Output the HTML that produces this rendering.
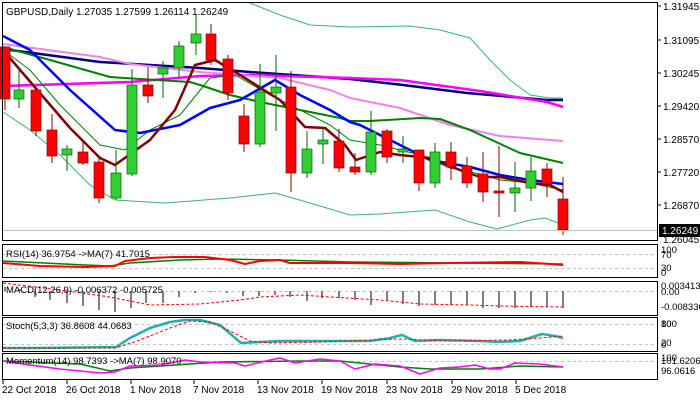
<!DOCTYPE html>
<html><head><meta charset="utf-8"><style>
html,body{margin:0;padding:0;background:#fff;}
svg{display:block;font-family:"Liberation Sans",sans-serif;font-size:10px;}
</style></head><body>
<svg id="c" width="700" height="400" viewBox="0 0 700 400" xmlns="http://www.w3.org/2000/svg">
<rect width="700" height="400" fill="#fff"/>
<g id="g"></g>
<!-- borders -->
<g fill="none" stroke="#000" stroke-width="1">
<rect x="2.5" y="2.5" width="655" height="238"/>
<rect x="2.5" y="244.5" width="655" height="33"/>
<rect x="2.5" y="281.5" width="655" height="34"/>
<rect x="2.5" y="317.5" width="655" height="34"/>
<rect x="2.5" y="353.5" width="655" height="26"/>
</g>
<line x1="3" y1="230.5" x2="657" y2="230.5" stroke="#c0c0c0"/>
<g fill="#000">
<text x="6" y="15">GBPUSD,Daily  1.27035 1.27599 1.26114 1.26249</text>
<text x="663" y="10">1.31945</text>
<text x="663" y="44">1.31095</text>
<text x="663" y="77">1.30245</text>
<text x="663" y="110">1.29420</text>
<text x="663" y="143">1.28570</text>
<text x="663" y="176">1.27720</text>
<text x="663" y="209">1.26870</text>
<text x="663" y="243">1.26045</text>
</g>
<rect x="659" y="224" width="41" height="13" fill="#000"/>
<text x="662" y="234" fill="#fff">1.26249</text>
<g fill="#000" font-size="9.5">
<text x="6" y="257">RSI(14) 36.9754  -&gt;MA(7) 41.7015</text>
<text x="661" y="253">100</text><text x="661" y="258">70</text><text x="661" y="271">30</text><text x="661" y="276">0</text>
<text x="6" y="293">MACD(12,26,9) -0.006372 -0.005725</text>
<text x="661" y="289">0.003413</text><text x="661" y="295">0.00</text><text x="661" y="310">-0.008336</text>
<text x="6" y="329">Stoch(5,3,3) 36.8608 44.0683</text>
<text x="661" y="327">100</text><text x="661" y="327">80</text><text x="661" y="346">20</text><text x="661" y="348">0</text>
<text x="6" y="364">Momentum(14) 98.7393  -&gt;MA(7) 98.9070</text>
<text x="661" y="364">101.6206</text><text x="661" y="361">100</text><text x="661" y="374">96.0616</text>
</g>
<g fill="#000" font-size="10">
<text x="2" y="393">22 Oct 2018</text><text x="66" y="393">26 Oct 2018</text><text x="130" y="393">1 Nov 2018</text>
<text x="193" y="393">7 Nov 2018</text><text x="257" y="393">13 Nov 2018</text><text x="321" y="393">19 Nov 2018</text>
<text x="386" y="393">23 Nov 2018</text><text x="451" y="393">29 Nov 2018</text><text x="515" y="393">5 Dec 2018</text>
</g>
</svg>
<script>
var g=document.getElementById('g'),NS='http://www.w3.org/2000/svg';
function el(t,a){var e=document.createElementNS(NS,t);for(var k in a)e.setAttribute(k,a[k]);g.appendChild(e);return e;}
function pl(p,c,w,d){el('polyline',{points:p,fill:'none',stroke:c,'stroke-width':w,'stroke-dasharray':d||'none','stroke-linejoin':'round'});}
// grid dashed
[[254.5],[268.5],[324.5],[344.5],[361.5],[291.5]].forEach(function(y){el('line',{x1:3,x2:657,y1:y[0],y2:y[0],stroke:'#c0c0c0','stroke-dasharray':'3,3'});});
// price axis ticks
[6,40,73,106,139,172,205].forEach(function(y){el('line',{x1:657,x2:661,y1:y,y2:y,stroke:'#000'});});
[2,66,130,193,257,321,386,451,515].forEach(function(x){el('line',{x1:x+1,x2:x+1,y1:380,y2:384,stroke:'#000'});});
// bollinger
pl("250,3 280,15 310,25 350,27 410,26 440,30 470,38 490,60 510,80 530,95 550,98 563,98","#3cb371",1);
pl("3,112 30,130 60,155 90,185 115,200 165,203 230,198 275,193 310,203 350,215 380,214 435,210 470,222 497,229 530,220 545,218 563,225","#3cb371",1);
pl("3,49 100,62 200,68 250,72 350,79 403,85 467,93 547,100 563,100","#000080",2.5);
pl("3,86 130,82 200,76 250,75 350,78 400,80 480,91 547,102 563,107","#ff00ff",2.5);
pl("3,44 100,57 130,64 200,72 280,78 330,90 350,98 400,108 450,125 500,136 563,141","#ee82ee",2);
pl("3,47 50,60 110,77 140,79 190,82 200,85 230,95 260,102 300,110 340,118 350,121 370,121 420,118 440,119 470,130 520,153 563,163","#008000",2);
pl("3,50 30,70 60,105 100,145 125,150 150,130 180,115 210,78 235,75 270,95 300,110 330,125 350,140 380,145 420,155 450,168 480,174 500,180 530,183 563,190","#008000",1);
pl("3,36 30,50 70,90 115,130 140,133 180,125 210,108 240,100 275,80 300,95 330,110 350,122 360,125 400,145 430,160 470,167 500,175 530,180 563,184","#0000ff",2.5);
pl("3,50 33,85 70,128 100,158 115,165 150,140 175,110 195,65 215,60 240,75 280,100 305,127 325,128 345,145 356,160 380,152 400,155 430,158 460,170 480,177 500,177 530,183 550,185 563,192","#800000",2.5);
// candles [x, wickTop, wickBot, bodyTop, bodyBot, green]
var xs=[5,19,36,52,67,83,99,116,132,148,163,179,196,211,228,244,260,276,291,307,323,339,355,371,387,403,419,435,451,467,483,499,515,531,547,563];
var c=[[47,110,47,99,0],[67,108,90,99,1],[90,136,90,131,0],[114,163,130,156,0],[145,171,149,155,1],[140,165,152,163,0],[157,203,162,198,0],[150,200,173,198,1],[69,176,85,174,1],[67,103,85,96,0],[61,98,68,74,1],[41,77,46,68,1],[15,55,34,43,1],[24,65,34,60,0],[55,100,59,93,0],[104,152,116,144,0],[64,147,92,144,1],[55,131,87,93,1],[71,192,87,173,0],[131,178,149,173,1],[127,164,140,144,1],[129,172,141,168,0],[153,175,167,172,0],[111,175,132,172,1],[129,163,131,157,0],[136,163,149,152,1],[150,191,150,183,0],[143,188,152,183,1],[142,180,152,167,0],[157,188,166,183,0],[152,202,174,192,0],[146,217,191,193,0],[162,212,188,193,1],[157,201,171,188,1],[163,197,169,184,0],[177,235,199,230,0]];
c.forEach(function(k,i){var x=xs[i],col=k[4]?'#32cd32':'#ff0000',wc=k[4]?'#006400':'#8b0000';
el('line',{x1:x,x2:x,y1:k[0],y2:k[1],stroke:wc,'stroke-width':1});
el('rect',{x:x-5,y:k[2],width:10,height:Math.max(1,k[3]-k[2]),fill:col,stroke:wc,'stroke-width':0.7});});
// RSI
pl("3,261 85,265 110,266 130,263 180,260 220,259 280,260 350,262 563,264","#008000",1.5);
pl("3,263 40,266 85,267 115,266 125,261 150,258 175,257 205,257 230,260 245,264 260,261 280,260 290,263 350,263 400,264 450,263 520,262 550,264 563,265","#ff0000",2);
// MACD hist
var mh=[[5,287],[20,289],[35,297],[50,300],[67,303],[83,306],[99,310],[115,312],[131,308],[146,303],[163,303],[179,297],[195,293],[211,292],[227,293],[243,296],[259,296],[275,295],[290,297],[307,301],[322,298],[339,298],[355,300],[371,305],[387,300],[403,304],[419,306],[435,305],[451,305],[467,305],[483,308],[499,308],[515,308],[531,307],[547,307],[563,308]];
mh.forEach(function(m){el('line',{x1:m[0],x2:m[0],y1:291,y2:m[1],stroke:'#808080','stroke-width':2});});
pl("3,283 60,290 110,297 150,305 200,304 240,300 260,297 300,295 330,297 380,300 420,304 470,305 500,306 563,307","#ff0000",1,"3,2");
// Stoch
pl("3,348 40,348 116,347 130,338 150,328 170,322 185,320 200,320 220,325 241,343 260,342 280,341 300,341 330,341 370,341 390,338 402,335 415,341 440,340 480,341 500,342 520,341 542,334 555,336 563,338","#20b2aa",2.5);
pl("3,348 116,348 140,340 170,328 190,321 210,322 230,331 250,341 270,343 320,342 400,339 450,341 510,340 540,338 563,336","#ff0000",1,"3,2");
// Momentum
pl("3,361 80,364 110,371 130,368 175,365 220,362 300,361 340,361 400,367 430,369 480,369 520,366 563,367","#008000",1.5);
pl("3,361 30,365 60,369 100,373 115,372 130,366 160,365 185,360 200,362 235,363 245,366 270,360 280,358 295,363 320,359 340,361 355,369 375,364 400,366 420,374 440,368 460,367 475,365 490,369 500,369 515,363 540,364 563,367","#ff00ff",1.5);
</script>
</body></html>
